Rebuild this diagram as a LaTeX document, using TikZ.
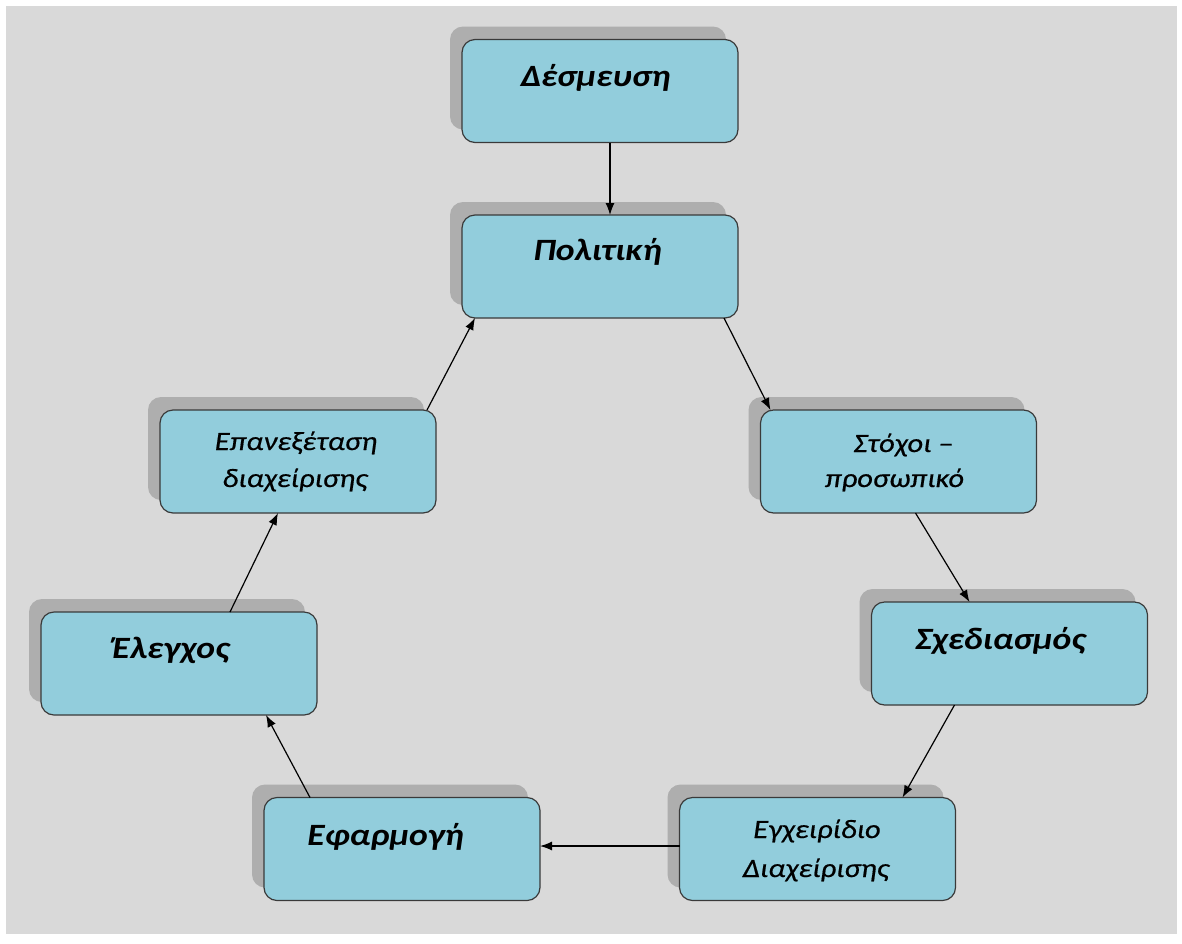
\documentclass[tikz,border=0pt]{standalone}
\usepackage{fontspec}
\setmainfont{Carlito}[FakeStretch=1.15]
\newfontfamily\smallfam{Carlito}[FakeStretch=1.15, ItalicFeatures={FakeBold=0.5}]
\usetikzlibrary{arrows.meta}
\definecolor{bgray}{HTML}{D9D9D9}
\definecolor{shad}{HTML}{AEAEAE}
\definecolor{boxfill}{HTML}{92CDDC}
\definecolor{boxline}{HTML}{3A3A3A}
\tikzset{
  stagebox/.style={draw=boxline, line width=1.2pt, fill=boxfill, rounded corners=13pt,
    minimum width=276pt, minimum height=103pt, inner sep=0pt, outer sep=0pt},
  shadowbox/.style={fill=shad, rounded corners=13pt, minimum width=276pt, minimum height=103pt,
    inner sep=0pt, outer sep=0pt},
  bigtxt/.style={anchor=base, inner sep=0pt, font=\fontsize{31}{37}\selectfont\bfseries\itshape},
  smalltxt/.style={anchor=base, inner sep=0pt, font=\smallfam\fontsize{26.5}{32}\selectfont\itshape},
  flow/.style={line width=1.2pt, -{Latex[length=12pt,width=9pt]}}
}
\begin{document}
\begin{tikzpicture}[x=1pt,y=-1pt]
\fill[white] (0,0) rectangle (1182,943);
\fill[bgray] (6,6) rectangle (1177,934);
\useasboundingbox (0,0) rectangle (1182,943);
% shadows
\foreach \cx/\cy in {600/91, 600/266.5, 298/461.5, 898.5/461.5, 179/663.5, 1009.5/653.5, 402/849, 817.5/849}
  \node[shadowbox] at (\cx-12,\cy-13) {};
% boxes
\node[stagebox] (dem) at (600,91) {};
\node[stagebox] (pol) at (600,266.5) {};
\node[stagebox] (epa) at (298,461.5) {};
\node[stagebox] (sto) at (898.5,461.5) {};
\node[stagebox] (ele) at (179,663.5) {};
\node[stagebox] (sxe) at (1009.5,653.5) {};
\node[stagebox] (efa) at (402,849) {};
\node[stagebox] (egx) at (817.5,849) {};
% texts
\node[bigtxt] (tdem) at (595.5,86) {Δέσμευση};
\node[bigtxt] (tpol) at (597.5,260) {Πολιτική};
\node[bigtxt] (tele) at (171,658) {Έλεγχος};
\node[bigtxt] (tefa) at (385.5,845) {Εφαρμογή};
\node[bigtxt] (tsxe) at (1000.5,649) {Σχεδιασμός};
\node[smalltxt] (tepa1) at (296,450) {Επανεξέταση};
\node[smalltxt] (tepa2) at (295,487) {διαχείρισης};
\node[smalltxt] (tsto1) at (903.5,452) {Στόχοι –};
\node[smalltxt] (tsto2) at (894.5,487) {προσωπικό};
\node[smalltxt] (tegx1) at (817,838) {Εγχειρίδιο};
\node[smalltxt] (tegx2) at (816,877) {Διαχείρισης};
% connectors
\draw[flow] ([xshift=10pt]dem.south) -- ([xshift=10pt]pol.north);
\draw[flow] ([xshift=-14pt]pol.south east) -- ([xshift=10pt]sto.north west);
\draw[flow] ([xshift=17pt]sto.south) -- ([xshift=-40pt]sxe.north);
\draw[flow] ([xshift=-55pt]sxe.south) -- ([xshift=85pt]egx.north);
\draw[flow] ([yshift=3pt]egx.west) -- ([yshift=3pt]efa.east);
\draw[flow] ([xshift=-92pt]efa.north) -- ([xshift=87pt]ele.south);
\draw[flow] ([xshift=51pt]ele.north) -- ([xshift=-20pt]epa.south);
\draw[flow] ([xshift=-9pt]epa.north east) -- ([xshift=13pt]pol.south west);
\end{tikzpicture}
\end{document}
